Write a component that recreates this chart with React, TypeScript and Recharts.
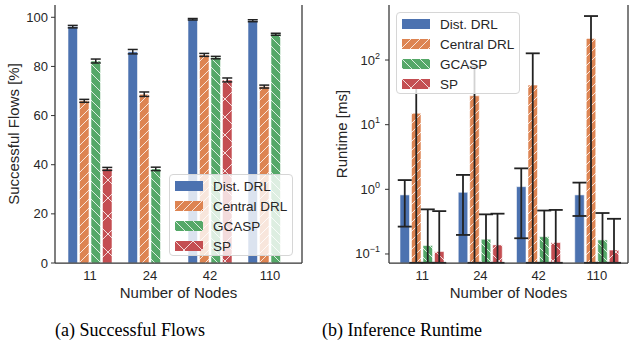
import { BarChart, Bar, XAxis, YAxis, ErrorBar, Legend } from 'recharts'

const nodes = ['11', '24', '42', '110']
const seriesNames = ['Dist. DRL', 'Central DRL', 'GCASP', 'SP']

// (a) successful flows [%], mean and +/- error
const flowsDist = [96.2, 86.0, 99.2, 98.6]
const flowsDistErr = [0.5, 0.9, 0.3, 0.4]
const flowsCentral = [66.0, 68.7, 84.7, 71.8]
const flowsCentralErr = [0.6, 0.9, 0.6, 0.6]
const flowsGcasp = [82.2, 38.3, 83.6, 93.1]
const flowsGcaspErr = [0.8, 0.7, 0.5, 0.4]
const flowsSp = [38.3, 0, 74.5, 0]
const flowsSpErr = [0.6, 0, 0.8, 0]

// (b) inference runtime [ms], mean and [below, above] error
// (lower whiskers that run off the log axis stop at its bottom edge)
const runDist = [0.82, 0.9, 1.1, 0.82]
const runDistErr = [[0.555, 0.57], [0.703, 0.77], [0.925, 1.01], [0.433, 0.45]]
const runCentral = [15, 28, 41, 216]
const runCentralErr = [[14.927, 26], [27.927, 51], [40.927, 86], [215.927, 263]]
const runGcasp = [0.135, 0.169, 0.185, 0.165]
const runGcaspErr = [[0.062, 0.355], [0.096, 0.241], [0.112, 0.285], [0.092, 0.265]]
const runSp = [0.109, 0.138, 0.15, 0.115]
const runSpErr = [[0.036, 0.351], [0.065, 0.282], [0.077, 0.33], [0.042, 0.235]]

const flowTicks = [0, 20, 40, 60, 80, 100]
const runTicks = [0.1, 1, 10, 100]

const FONT = '"Liberation Sans", Arial, Helvetica, sans-serif'
const INK = '#262626'
const SPINE = '#333'
const COLORS = ['#4C72B0', '#DD8452', '#55A868', '#C44E52']

const flowRows = nodes.map((n, i) => ({
  nodes: n,
  dist: flowsDist[i], distErr: flowsDistErr[i],
  central: flowsCentral[i], centralErr: flowsCentralErr[i],
  gcasp: flowsGcasp[i], gcaspErr: flowsGcaspErr[i],
  sp: flowsSp[i], spErr: flowsSpErr[i],
}))

const runRows = nodes.map((n, i) => ({
  nodes: n,
  dist: runDist[i], distErr: runDistErr[i],
  central: runCentral[i], centralErr: runCentralErr[i],
  gcasp: runGcasp[i], gcaspErr: runGcaspErr[i],
  sp: runSp[i], spErr: runSpErr[i],
}))

const keys = ['dist', 'central', 'gcasp', 'sp']

function hatchDefs(p: string) {
  return (
    <defs>
      <pattern id={`${p}-fwd`} patternUnits="userSpaceOnUse" width={9} height={9}>
        <rect width={9} height={9} fill={COLORS[1]} />
        <path d="M-1,1 L1,-1 M0,9 L9,0 M8,10 L10,8" stroke="#fff" strokeWidth={1} strokeOpacity={0.8} />
      </pattern>
      <pattern id={`${p}-back`} patternUnits="userSpaceOnUse" width={9} height={9}>
        <rect width={9} height={9} fill={COLORS[2]} />
        <path d="M-1,8 L1,10 M0,0 L9,9 M8,-1 L10,1" stroke="#fff" strokeWidth={1} strokeOpacity={0.8} />
      </pattern>
      <pattern id={`${p}-x`} patternUnits="userSpaceOnUse" width={18} height={18}>
        <rect width={18} height={18} fill={COLORS[3]} />
        <path d="M0,0 L18,18 M18,0 L0,18" stroke="#fff" strokeWidth={1} strokeOpacity={0.8} />
      </pattern>
    </defs>
  )
}

const fillsFor = (p: string) => [COLORS[0], `url(#${p}-fwd)`, `url(#${p}-back)`, `url(#${p}-x)`]

function LegendBox({ fills }: { fills: string[] }) {
  return (
    <div
      style={{
        width: 124,
        height: 82,
        boxSizing: 'border-box',
        background: 'rgba(255,255,255,0.8)',
        border: '1px solid #d6d6d6',
        borderRadius: 4,
        padding: '1px 0 0 5px',
        fontFamily: FONT,
        fontSize: 13.5,
        color: INK,
      }}
    >
      {seriesNames.map((name, i) => (
        <div key={name} style={{ display: 'flex', alignItems: 'center', height: 20 }}>
          <svg width={28} height={10} style={{ marginRight: 10, flex: 'none' }}>
            <rect width={28} height={10} fill={fills[i]} />
          </svg>
          <span style={{ whiteSpace: 'nowrap' }}>{name}</span>
        </div>
      ))}
    </div>
  )
}

function PowTick({ x, y, payload }: any) {
  const exp = Math.round(Math.log10(payload.value))
  return (
    <text x={x} y={y} dy={4.5} textAnchor="end" fill={INK} fontSize={13} fontFamily={FONT}>
      10
      <tspan dy={-6} fontSize={9}>
        {exp < 0 ? `\u2212${-exp}` : exp}
      </tspan>
    </text>
  )
}

const tickStyle = { fill: INK, fontSize: 13, fontFamily: FONT }
const labelStyle = { fill: INK, fontSize: 15, fontFamily: FONT, textAnchor: 'middle' as const }

function FlowsChart() {
  const fills = fillsFor('L')
  return (
    <BarChart width={320} height={300} data={flowRows} margin={{ top: 5, right: 14, bottom: 0, left: 0 }} barSize={9.5} barGap={2}>
      {hatchDefs('L')}
      <XAxis
        dataKey="nodes"
        height={37}
        padding={{ left: 5, right: 2 }}
        tickLine={false}
        tickSize={0}
        tickMargin={8}
        tick={tickStyle}
        axisLine={{ stroke: SPINE, strokeWidth: 1.25 }}
        label={{ value: 'Number of Nodes', position: 'insideBottom', offset: 2, style: labelStyle }}
      />
      <XAxis xAxisId="top" orientation="top" dataKey="nodes" height={0} tick={false} tickLine={false} axisLine={{ stroke: SPINE, strokeWidth: 1.25 }} />
      <YAxis
        width={55}
        domain={[0, 105]}
        ticks={flowTicks}
        tickSize={4}
        tickMargin={3}
        tick={tickStyle}
        tickLine={{ stroke: SPINE }}
        axisLine={{ stroke: SPINE, strokeWidth: 1.25 }}
        label={{ value: 'Successful Flows [%]', angle: -90, position: 'insideLeft', offset: 14, style: labelStyle }}
      />
      <YAxis yAxisId="r" orientation="right" width={4} domain={[0, 105]} ticks={flowTicks} tick={false} tickSize={3} tickLine={{ stroke: SPINE }} axisLine={{ stroke: SPINE, strokeWidth: 1.25 }} />
      {keys.map((k, i) => (
        <Bar key={k} dataKey={k} name={seriesNames[i]} fill={fills[i]} stroke="rgba(255,255,255,0.55)" strokeWidth={1} isAnimationActive={false}>
          <ErrorBar dataKey={`${k}Err`} width={5} stroke="#222" strokeWidth={1.5} isAnimationActive={false} />
        </Bar>
      ))}
      <Legend
        layout="vertical"
        align="center"
        verticalAlign="middle"
        content={() => <LegendBox fills={fills} />}
        wrapperStyle={{ left: 169, top: 174, width: 124, height: 82 }}
      />
    </BarChart>
  )
}

function RuntimeChart() {
  const fills = fillsFor('R')
  return (
    <BarChart width={319} height={300} data={runRows} margin={{ top: 5, right: 0, bottom: 0, left: 0 }} barSize={9.5} barGap={2}>
      {hatchDefs('R')}
      <XAxis
        dataKey="nodes"
        height={37}
        padding={{ left: 4, right: 2 }}
        tickLine={false}
        tickSize={0}
        tickMargin={8}
        tick={tickStyle}
        axisLine={{ stroke: SPINE, strokeWidth: 1.25 }}
        label={{ value: 'Number of Nodes', position: 'insideBottom', offset: 2, style: labelStyle }}
      />
      <XAxis xAxisId="top" orientation="top" dataKey="nodes" height={0} tick={false} tickLine={false} axisLine={{ stroke: SPINE, strokeWidth: 1.25 }} />
      <YAxis
        width={79}
        type="number"
        scale="log"
        domain={[0.0725, 710]}
        allowDataOverflow
        ticks={runTicks}
        tickSize={4}
        tickMargin={5}
        tick={<PowTick />}
        tickLine={{ stroke: SPINE }}
        axisLine={{ stroke: SPINE, strokeWidth: 1.25 }}
        label={{ value: 'Runtime [ms]', angle: -90, position: 'insideLeft', offset: 32, style: labelStyle }}
      />
      <YAxis yAxisId="r" orientation="right" width={1} type="number" scale="log" domain={[0.0725, 710]} allowDataOverflow ticks={runTicks} tick={false} tickSize={3} tickLine={{ stroke: SPINE }} axisLine={{ stroke: SPINE, strokeWidth: 1.25 }} />
      {keys.map((k, i) => (
        <Bar key={k} dataKey={k} name={seriesNames[i]} fill={fills[i]} stroke="rgba(255,255,255,0.55)" strokeWidth={1} isAnimationActive={false}>
          <ErrorBar dataKey={`${k}Err`} width={7} stroke="#222" strokeWidth={1.8} isAnimationActive={false} />
        </Bar>
      ))}
      <Legend
        layout="vertical"
        align="center"
        verticalAlign="middle"
        content={() => <LegendBox fills={fills} />}
        wrapperStyle={{ left: 86, top: 12, width: 125, height: 82 }}
      />
    </BarChart>
  )
}

const captionStyle = {
  position: 'absolute' as const,
  top: 321,
  width: 240,
  textAlign: 'center' as const,
  fontFamily: '"Liberation Serif", "Times New Roman", serif',
  fontSize: 18,
  lineHeight: '18px',
  color: '#000',
}

export default function App() {
  return (
    <div style={{ position: 'absolute', left: 0, top: 0, width: 629, height: 349, background: '#fff', overflow: 'hidden' }}>
      <div style={{ position: 'absolute', left: 0, top: 0 }}>
        <FlowsChart />
      </div>
      <div style={{ position: 'absolute', left: 310, top: 0 }}>
        <RuntimeChart />
      </div>
      <div style={{ ...captionStyle, left: 130 - 120 }}>(a) Successful Flows</div>
      <div style={{ ...captionStyle, left: 402 - 120 }}>(b) Inference Runtime</div>
    </div>
  )
}
